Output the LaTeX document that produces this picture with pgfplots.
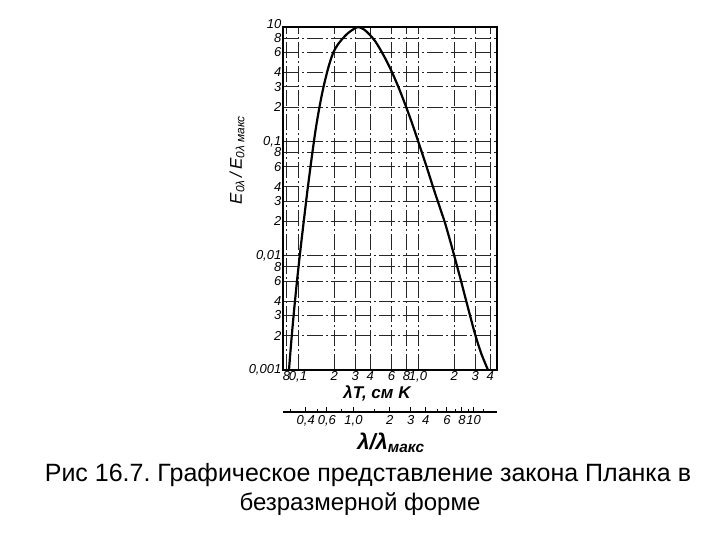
\documentclass[border=0pt]{standalone}
\usepackage{fontspec}
\setmainfont{Liberation Sans}
\usepackage{pgfplots}
\pgfplotsset{compat=1.18}
\frenchspacing

\tikzset{
  lblfont/.style={font=\fontsize{13bp}{13bp}\selectfont\itshape},
}

\begin{document}
\begin{tikzpicture}
\useasboundingbox (0,0) rectangle (720bp,540bp);

% main chart: E/Emax against lambda*T
\begin{axis}[
  at={(283bp,170bp)}, anchor=south west,
  width=214bp, height=343bp, scale only axis,
  xmode=log, ymode=log,
  xmin=0.075, xmax=4.55, ymin=0.001, ymax=1,
  xtick={0.08,0.1,0.2,0.3,0.4,0.6,0.8,1,2,3,4},
  xticklabels={8,{0,1},2,3,4,6,8,{1,0},2,3,4},
  ytick={0.001,0.002,0.003,0.004,0.006,0.008,0.01,0.02,0.03,0.04,0.06,0.08,0.1,0.2,0.3,0.4,0.6,0.8,1},
  yticklabels={{0,001},2,3,4,6,8,{0,01},2,3,4,6,8,{0,1},2,3,4,6,8,{}},
  major tick length=0pt,
  grid=major,
  major grid style={black!85, line width=0.7bp, dash pattern=on 16bp off 3bp on 2bp off 3bp},
  axis line style={line width=1.3bp},
  tick label style={lblfont},
  xticklabel style={inner sep=1bp},
  yticklabel style={inner sep=1.5bp},
  clip mode=individual,
]
\addplot[black, line width=2.2bp, smooth] coordinates {
  (0.0841,0.001) (0.0881,0.001829) (0.0928,0.003346) (0.0983,0.006125)
  (0.1047,0.01121) (0.1120,0.02050) (0.1200,0.03753) (0.1293,0.06866)
  (0.1401,0.1256) (0.1510,0.1997) (0.1631,0.2987) (0.1795,0.4468)
  (0.1961,0.5925) (0.2134,0.6961) (0.2376,0.8012) (0.2616,0.8862)
  (0.2873,0.9509) (0.3162,1.0)
  (0.3548,0.9509) (0.3981,0.8511) (0.4382,0.7542) (0.4823,0.6421)
  (0.5309,0.5356) (0.5843,0.4379) (0.6431,0.3509) (0.7079,0.2756)
  (0.7792,0.2121) (0.8577,0.1616) (0.9261,0.1282) (1.0,0.1007)
  (1.080,0.07904) (1.166,0.06209) (1.259,0.04827) (1.359,0.03753)
  (1.525,0.02611) (1.679,0.01930) (1.884,0.01265) (2.113,0.008120)
  (2.282,0.006004) (2.465,0.004394) (2.712,0.002996) (2.985,0.002064)
  (3.350,0.001408) (3.831,0.001)
};
\node[lblfont, anchor=east, inner sep=1.5bp, yshift=3bp] at (axis cs:0.075,1) {10};
\end{axis}

% second scale: lambda/lambda_max
\begin{axis}[
  at={(283bp,128bp)}, anchor=south west,
  width=214bp, height=10bp, scale only axis,
  xmode=log, xmin=0.2586, xmax=15.69, ymin=0, ymax=1,
  axis x line*=bottom, axis y line=none,
  xtick={0.4,0.6,1,2,3,4,6,8,10},
  xticklabels={{0,4},{0,6},{1,0},2,3,4,6,8,10},
  minor xtick={0.3,0.5,0.8,1.5,5,7,9,12},
  tick align=inside,
  major tick length=5bp, minor tick length=3bp,
  tick style={black, line width=0.8bp},
  axis line style={line width=1.2bp},
  tick label style={lblfont},
  xticklabel style={inner sep=1bp, yshift=-2bp},
]
\addplot[draw=none] coordinates {(1,0.5)};
\end{axis}

\node[font=\fontsize{17bp}{17bp}\selectfont\bfseries\itshape] at (377bp,147bp) {λT, см K};
\node[font=\fontsize{22bp}{22bp}\selectfont\bfseries\itshape] at (391bp,97bp) {λ/λ\textsubscript{макс}};
\node[rotate=90, font=\fontsize{17bp}{17bp}\selectfont\itshape] at (237bp,380bp)
  {E\textsubscript{0λ}\,/\,E\textsubscript{0λ макс}};

\node[anchor=base, font=\fontsize{25bp}{28bp}\selectfont] at (368bp,58bp)
  {Рис 16.7. Графическое представление закона Планка в};
\node[anchor=base, font=\fontsize{24bp}{28bp}\selectfont] at (360bp,30bp)
  {безразмерной форме};
\end{tikzpicture}
\end{document}
